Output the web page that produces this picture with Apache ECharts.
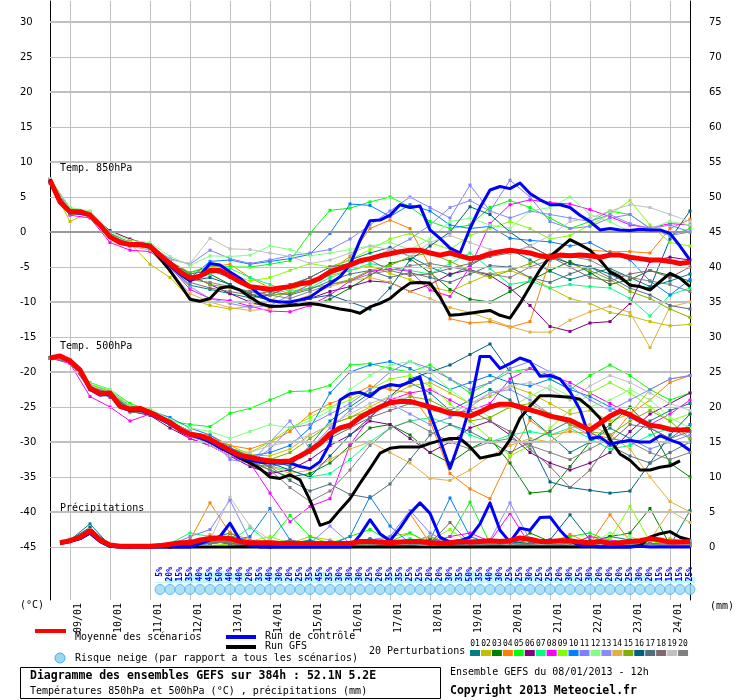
<!DOCTYPE html>
<html>
<head>
<meta charset="utf-8">
<script src="https://cdn.jsdelivr.net/npm/echarts@6/dist/echarts.min.js"></script>
<style>
  html, body { margin: 0; padding: 0; background: #fff; }
  #chart { width: 740px; height: 700px; }
</style>
</head>
<body>
<div id="chart"></div>
<script>
// GEFS 384h ensemble diagram, 52.1N 5.2E, run of 08/01/2013 12h
// time steps every 6h (65 steps), perturbations read every 12h

var dayLabels = ['09/01', '10/01', '11/01', '12/01', '13/01', '14/01', '15/01', '16/01',
  '17/01', '18/01', '19/01', '20/01', '21/01', '22/01', '23/01', '24/01'];
var leftTicks = [-45, -40, -35, -30, -25, -20, -15, -10, -5, 0, 5, 10, 15, 20, 25, 30];
var rightTicks = [0, 5, 10, 15, 20, 25, 30, 35, 40, 45, 50, 55, 60, 65, 70, 75];

var pertNames = ['01', '02', '03', '04', '05', '06', '07', '08', '09', '10',
  '11', '12', '13', '14', '15', '16', '17', '18', '19', '20'];
var pertColors = ['#008080', '#c0c000', '#008000', '#ff8000', '#00ff00', '#800080', '#00ff80',
  '#ff00ff', '#80ff00', '#0080ff', '#8080ff', '#80ff80', '#8888ff', '#e0b040', '#80b000',
  '#006080', '#507080', '#806870', '#c0c0c0', '#808080'];

// 850 hPa (°C), 6h
var mean850 = [7.4, 4.3, 2.9, 2.9, 2.4, 1.0, -0.7, -1.5, -1.8, -1.8, -2.0, -3.3, -4.5, -5.7, -6.6, -6.3,
  -5.5, -5.5, -6.3, -7.1, -7.8, -8.0, -8.2, -8.0, -7.8, -7.4, -7.2, -6.6, -5.7, -5.2, -4.7, -4.1,
  -3.8, -3.4, -3.1, -2.8, -2.6, -2.6, -3.0, -3.3, -3.0, -3.4, -3.8, -3.6, -3.1, -2.8, -2.6, -2.8,
  -3.0, -3.4, -3.6, -3.3, -3.4, -3.3, -3.4, -3.6, -3.3, -3.3, -3.6, -3.8, -4.0, -4.0, -4.2, -4.5, -4.3];
var ctrl850 = [7.5, 4.2, 2.8, 2.7, 2.4, 1.0, -0.6, -1.5, -1.8, -1.8, -2.0, -3.4, -4.8, -6.0, -7.0, -6.2,
  -4.5, -4.7, -5.7, -6.6, -7.8, -9.0, -9.8, -10.0, -10.0, -9.7, -9.3, -8.3, -7.4, -6.4, -4.7, -1.2,
  1.6, 1.7, 2.4, 3.9, 3.5, 3.7, 0.3, -0.9, -2.3, -3.0, 0.5, 3.5, 6.0, 6.5, 6.2, 7.0,
  5.5, 4.6, 3.9, 3.9, 3.5, 2.4, 1.5, 0.3, 0.5, 0.3, 0.2, 0.4, 0.3, 0.3, -0.2, -2.0, -4.0];
var gfs850 = [7.5, 4.3, 2.9, 2.9, 2.4, 1.0, -0.7, -1.5, -1.8, -1.8, -2.1, -3.8, -5.5, -7.5, -9.6, -9.9,
  -9.5, -8.0, -7.8, -8.3, -9.3, -10.2, -10.6, -10.6, -10.5, -10.4, -10.2, -10.4, -10.7, -11.0, -11.2, -11.6,
  -10.7, -10.2, -9.5, -8.3, -7.3, -7.2, -7.3, -9.3, -11.9, -11.8, -11.6, -11.4, -11.2, -11.9, -12.3, -10.2,
  -7.8, -5.4, -3.5, -2.3, -1.1, -1.8, -2.6, -4.0, -5.7, -6.4, -7.6, -7.8, -8.3, -7.1, -5.9, -6.6, -7.8];

// 500 hPa (°C), 6h
var mean500 = [-18.0, -17.7, -18.4, -19.7, -22.3, -23.1, -23.0, -24.9, -25.3, -25.2, -25.8, -26.5, -27.2, -28.2, -28.9, -29.1,
  -29.6, -30.4, -31.2, -31.9, -32.2, -32.5, -32.7, -32.8, -32.7, -32.0, -31.2, -30.2, -28.8, -28.0, -27.6, -26.5,
  -25.7, -25.0, -24.4, -24.2, -24.2, -24.6, -25.0, -25.4, -25.9, -26.0, -26.3, -25.7, -25.0, -24.6, -24.6, -25.0,
  -25.4, -25.8, -26.3, -26.6, -26.9, -27.6, -28.3, -27.3, -26.3, -25.6, -26.1, -26.9, -27.6, -27.8, -28.2, -28.3, -28.2];
var ctrl500 = [-18.0, -17.7, -18.5, -19.8, -22.5, -23.3, -23.2, -25.0, -25.5, -25.4, -26.0, -26.7, -27.4, -28.4, -29.0, -29.4,
  -30.0, -30.8, -31.5, -32.2, -32.6, -32.9, -33.0, -33.0, -33.0, -33.5, -33.8, -32.8, -30.2, -24.0, -23.1, -22.9,
  -23.5, -22.3, -21.8, -22.0, -21.4, -20.7, -25.9, -29.7, -33.8, -29.7, -24.9, -17.8, -17.8, -19.5, -18.8, -18.0,
  -18.5, -20.6, -20.5, -21.0, -22.8, -25.4, -29.5, -29.3, -30.3, -30.0, -29.8, -30.0, -30.0, -29.1, -29.7, -30.2, -31.2];
var gfs500 = [-18.0, -17.7, -18.4, -19.7, -22.3, -23.1, -23.0, -24.9, -25.3, -25.2, -25.8, -26.5, -27.2, -28.2, -28.9, -29.3,
  -29.9, -30.8, -31.5, -32.3, -33.0, -33.8, -35.0, -35.2, -34.7, -35.4, -38.3, -41.9, -41.4, -39.7, -38.1, -35.9,
  -33.8, -31.6, -30.9, -30.7, -30.7, -30.7, -30.2, -29.8, -29.5, -29.5, -30.7, -32.3, -32.0, -31.7, -29.7, -26.6,
  -24.9, -23.4, -23.4, -23.5, -23.6, -23.9, -25.1, -26.6, -29.7, -31.7, -32.6, -34.0, -34.0, -33.6, -33.4, -32.7, null];

// precipitation (mm), 6h
var meanPrecip = [null, 0.6, 0.9, 1.4, 2.3, 1.0, 0.3, 0.1, 0.1, 0.1, 0.1, 0.2, 0.4, 0.6, 0.6, 1.0,
  1.2, 1.3, 1.2, 0.8, 0.6, 0.6, 0.6, 0.5, 0.5, 0.5, 0.5, 0.5, 0.5, 0.5, 0.5, 0.8,
  0.8, 0.7, 0.6, 0.7, 0.8, 0.8, 0.6, 0.5, 0.6, 0.8, 0.7, 0.8, 0.9, 0.8, 0.9, 1.3,
  1.1, 0.8, 0.8, 0.9, 0.9, 0.7, 0.6, 0.8, 0.5, 0.6, 0.8, 0.9, 1.2, 1.0, 0.7, 0.7, 0.8];
var ctrlPrecip = [null, 0.6, 0.8, 1.2, 2.0, 0.8, 0.1, 0, 0, 0, 0, 0, 0, 0, 0, 0.5,
  1.0, 1.5, 3.4, 1.0, 0.2, 0, 0, 0, 0, 0, 0, 0, 0, 0, 0, 1.7,
  3.9, 1.9, 0.9, 2.7, 4.8, 6.3, 4.8, 1.4, 0.7, 0.9, 1.4, 3.3, 6.3, 2.4, 0.7, 2.7,
  2.4, 4.2, 4.3, 2.4, 0.9, 0.2, 0.1, 0, 0, 0, 0, 0.1, 0, 0, 0, 0, 0];
var gfsPrecip = [null, 0.5, 0.8, 1.2, 2.0, 0.8, 0.1, 0, 0, 0, 0, 0, 0, 0, 0, 0,
  0, 0, 0, 0, 0, 0, 0, 0, 0, 0, 0, 0, 0, 0, 0, 0,
  0, 0, 0, 0, 0, 0, 0, 0, 0, 0, 0, 0, 0, 0, 0, 0,
  0, 0, 0, 0, 0, 0, 0, 0, 0, 0, 0, 0.2, 1.4, 1.9, 2.2, 1.4, 1.0];

// perturbations, 12h (33 values each)
var pert850 = [
  [7.2, 2.5, 2.7, -0.2, -1.5, -2.4, -5.0, -7.6, -8.2, -8.8, -9.4, -9.0, -7.8, -6.5, -5.0, -4.0, -3.0, -2.2, -3.5, -5.0, -6.2, -4.8, -3.2, -2.5, -4.0, -5.6, -6.8, -6.0, -5.2, -6.5, -7.8, -7.0, -6.0],
  [7.0, 1.5, 2.9, -0.8, -1.6, -4.6, -6.5, -9.5, -10.5, -11.0, -10.6, -9.8, -8.4, -7.0, -6.2, -5.5, -4.8, -5.9, -6.8, -7.8, -8.5, -7.2, -6.0, -5.5, -6.5, -8.0, -9.5, -10.2, -11.5, -12.0, -12.8, -13.4, -13.2],
  [7.4, 3.0, 2.4, -0.6, -2.0, -2.2, -4.6, -6.8, -6.0, -7.5, -9.0, -9.8, -10.2, -10.5, -9.6, -8.0, -6.2, -4.5, -3.8, -5.8, -8.2, -9.6, -10.0, -8.5, -7.0, -5.5, -4.2, -5.8, -7.5, -6.8, -5.5, -6.2, -7.0],
  [7.5, 3.2, 2.2, -0.4, -1.5, -2.0, -4.2, -5.8, -5.0, -4.6, -6.5, -8.0, -8.8, -7.5, -5.5, -3.5, 0.5, 1.7, 0.5, -5.0, -12.4, -13.0, -12.8, -13.6, -12.8, -4.0, -1.2, -2.6, -2.8, -2.8, -3.0, 0.5, 1.8],
  [7.6, 3.4, 2.8, -0.2, -1.5, -2.2, -4.5, -5.8, -4.8, -5.0, -5.0, -4.6, -4.1, -0.2, 3.1, 3.4, 4.3, 5.0, 3.6, 1.5, 0.5, 1.0, 3.5, 4.5, 3.5, 2.0, 0.5, 1.5, 3.0, 2.5, 0.5, -0.5, 0.5],
  [7.2, 3.0, 2.5, 0.2, -1.0, -1.8, -4.2, -6.2, -7.5, -8.8, -10.0, -10.8, -10.5, -9.5, -8.5, -7.8, -7.0, -7.2, -8.5, -7.5, -6.0, -5.4, -6.2, -8.0, -10.5, -13.5, -14.2, -13.0, -12.8, -10.2, -4.2, -3.6, -4.0],
  [7.5, 3.0, 2.6, -0.5, -1.7, -2.0, -4.4, -6.4, -6.0, -5.2, -6.5, -7.5, -8.5, -8.0, -6.5, -5.5, -4.5, -5.0, -5.5, -6.0, -4.5, -3.0, -5.2, -7.5, -7.0, -8.0, -7.5, -7.8, -8.0, -9.5, -12.0, -9.0, -8.0],
  [7.0, 2.4, 2.0, -1.5, -2.6, -2.8, -5.0, -8.2, -9.5, -9.8, -10.6, -11.3, -11.4, -10.5, -9.0, -7.0, -5.6, -5.3, -5.6, -8.3, -9.2, -5.0, 1.2, 3.9, 4.6, 4.2, 4.0, 3.2, 2.2, 1.0, 0.6, 1.2, 1.0],
  [7.6, 3.2, 2.8, -0.4, -1.5, -2.2, -4.6, -6.0, -5.2, -6.0, -7.0, -6.5, -5.5, -4.5, -5.0, -4.0, -2.5, -1.0, -0.2, -1.5, -2.5, -0.5, 0.5, 1.5, 0.5, -1.0, -0.5, 1.0, 2.5, 4.5, 1.0, -1.5, -2.0],
  [7.4, 3.0, 2.4, -0.8, -1.8, -2.0, -4.6, -6.6, -4.2, -4.0, -4.6, -4.2, -3.8, -3.2, -0.2, 4.0, 3.8, 2.2, 3.9, 3.0, 1.0, 0.5, 0.8, -0.9, -1.2, -1.4, -2.0, -1.5, -3.0, -4.0, -7.0, -9.0, -6.8],
  [7.5, 3.3, 2.7, -0.3, -1.6, -2.0, -3.8, -4.6, -2.6, -3.8, -4.5, -4.0, -3.4, -3.0, -2.5, -1.0, 1.0, 3.0, 5.0, 3.5, 2.0, 6.7, 3.0, 7.4, 5.0, 1.5, 0.5, 0.8, 2.0, 2.5, 0.5, 1.0, 0.0],
  [7.6, 3.5, 3.0, 0.0, -1.2, -1.5, -3.5, -4.8, -3.4, -3.5, -3.3, -2.0, -2.5, -3.4, -3.0, -2.5, -2.0, -1.5, -2.5, -1.0, 1.5, 2.0, 1.0, 0.5, 3.0, 3.5, 5.0, 2.5, 1.5, 0.0, 0.5, 1.5, 1.0],
  [7.3, 2.8, 2.5, -0.6, -1.8, -2.4, -5.2, -7.8, -9.5, -10.2, -10.8, -10.5, -9.0, -7.5, -6.0, -5.0, -4.0, -2.5, -1.0, 1.0, 3.5, 4.5, 3.0, 2.0, 3.0, 2.5, 2.0, 1.5, 2.5, 1.2, 0.5, -0.5, 0.0],
  [7.2, 2.6, 2.3, -0.7, -2.0, -2.6, -5.6, -8.8, -10.0, -10.8, -11.2, -11.0, -10.0, -9.0, -7.8, -7.0, -6.5, -7.2, -8.5, -9.5, -10.8, -11.5, -12.5, -13.5, -14.3, -14.3, -12.6, -11.4, -10.6, -11.5, -16.5, -10.7, -10.0],
  [7.4, 3.0, 2.6, -0.4, -1.4, -2.1, -4.5, -6.2, -7.5, -8.0, -8.5, -9.0, -8.8, -8.0, -7.5, -6.8, -5.5, -4.8, -3.5, -3.0, -4.2, -5.5, -6.5, -5.5, -4.5, -3.2, -4.5, -5.5, -6.8, -8.5, -9.5, -11.0, -12.2],
  [7.3, 2.7, 2.4, -0.5, -1.7, -2.2, -5.0, -7.0, -6.5, -7.5, -8.8, -9.8, -10.2, -9.5, -9.0, -10.0, -11.0, -8.0, -4.0, -2.0, 0.0, 3.6, 2.5, 0.0, -2.0, -3.5, -4.5, -5.0, -6.0, -7.5, -8.0, -1.0, 3.0],
  [7.5, 3.1, 2.6, -0.3, -1.6, -2.0, -4.2, -6.0, -5.5, -6.5, -7.8, -8.5, -9.0, -8.2, -7.0, -6.0, -5.5, -6.5, -5.8, -6.5, -7.2, -6.0, -4.8, -5.0, -6.5, -7.2, -6.0, -5.0, -6.5, -8.0, -9.0, -10.5, -11.0],
  [7.4, 2.9, 2.5, -0.4, -1.8, -2.3, -4.9, -7.2, -8.0, -8.5, -9.0, -8.5, -7.5, -6.5, -5.0, -4.5, -4.0, -5.5, -6.2, -6.0, -5.2, -4.5, -3.5, -3.0, -2.0, -3.5, -5.0, -6.5, -7.0, -6.0, -5.5, -6.5, -5.0],
  [7.5, 3.2, 2.7, -0.4, -1.5, -1.9, -4.0, -4.5, -0.9, -2.4, -2.5, -3.0, -3.5, -4.5, -4.0, -3.0, -2.0, -2.5, -3.5, -1.5, -0.5, -1.5, -2.5, -3.0, -2.0, -0.5, 1.5, 2.0, 3.0, 3.9, 3.5, 2.5, 1.5],
  [7.3, 2.8, 2.4, -0.6, -1.8, -2.1, -4.6, -6.8, -7.2, -7.8, -8.5, -9.0, -9.5, -8.5, -7.5, -7.0, -6.0, -5.5, -4.8, -4.5, -5.0, -5.5, -6.0, -6.5, -5.0, -4.0, -3.5, -4.0, -5.5, -6.5, -7.0, -7.5, -8.5]
];
var pert500 = [
  [-18.0, -18.6, -22.0, -23.2, -25.0, -26.0, -27.5, -29.0, -29.5, -31.0, -32.0, -32.5, -33.5, -30.5, -27.0, -25.0, -23.0, -22.0, -21.5, -23.0, -25.5, -24.0, -22.5, -24.0, -26.5, -29.0, -31.5, -30.0, -28.0, -29.5, -27.0, -25.5, -24.5],
  [-18.0, -18.5, -22.6, -23.5, -25.8, -25.4, -27.8, -28.6, -29.5, -30.5, -31.8, -32.0, -31.0, -29.0, -27.5, -26.5, -25.0, -23.5, -22.0, -21.5, -23.0, -24.5, -23.5, -22.0, -23.0, -24.5, -26.0, -25.5, -27.0, -26.0, -22.5, -21.0, -20.5],
  [-18.0, -18.3, -21.8, -22.8, -24.8, -25.5, -27.0, -28.5, -30.0, -31.5, -32.8, -34.0, -35.0, -34.5, -33.0, -30.5, -28.0, -27.5, -29.0, -31.5, -33.0, -31.0, -29.5, -33.0, -37.3, -37.0, -33.5, -30.0, -27.5, -25.0, -28.0, -33.0, -35.0],
  [-18.0, -18.5, -22.2, -23.0, -25.5, -25.6, -27.0, -28.8, -29.0, -30.5, -31.0, -30.0, -28.5, -26.0, -24.5, -23.5, -22.0, -22.5, -23.0, -27.0, -34.5, -36.7, -38.1, -32.1, -26.9, -29.0, -28.5, -28.8, -29.5, -26.0, -24.0, -21.5, -20.5],
  [-18.0, -18.2, -21.5, -22.5, -24.5, -25.5, -27.0, -27.5, -27.8, -25.9, -25.2, -24.0, -22.8, -22.7, -21.9, -19.0, -18.8, -19.5, -20.0, -19.0, -21.0, -23.0, -21.5, -20.0, -19.5, -21.0, -22.5, -20.5, -19.0, -20.5, -22.5, -24.0, -23.0],
  [-18.0, -18.6, -22.4, -23.6, -25.6, -26.2, -28.0, -29.5, -30.5, -32.0, -33.5, -34.5, -34.0, -32.5, -30.5, -29.0, -27.0, -27.5, -29.5, -31.5, -30.0, -28.0, -27.0, -29.0, -31.5, -33.0, -34.0, -33.0, -31.5, -28.5, -26.0, -24.5, -23.0],
  [-18.0, -18.4, -22.0, -23.0, -25.2, -25.8, -27.0, -28.5, -29.5, -31.0, -32.5, -33.5, -34.0, -35.0, -34.5, -32.5, -30.0, -28.0, -27.0, -26.5, -27.5, -29.0, -30.0, -29.0, -28.5, -29.0, -28.0, -29.5, -31.0, -30.5, -29.0, -28.0, -29.5],
  [-18.0, -18.8, -23.5, -25.0, -27.0, -26.0, -27.5, -29.5, -30.5, -32.0, -33.0, -37.3, -41.4, -39.2, -38.1, -30.4, -26.5, -24.0, -23.0, -22.5, -24.0, -25.5, -24.5, -21.0, -19.5, -20.5, -21.5, -23.0, -24.5, -26.0, -27.5, -26.0, -24.0],
  [-18.0, -18.3, -21.8, -22.6, -25.0, -25.8, -27.4, -29.0, -29.8, -31.0, -31.5, -30.0, -28.0, -26.5, -25.0, -24.0, -22.5, -21.0, -20.5, -22.0, -24.5, -27.0, -29.5, -32.0, -30.5, -28.0, -25.5, -23.0, -21.5, -23.0, -25.0, -27.0, -26.0],
  [-18.0, -18.5, -22.3, -23.0, -25.4, -25.5, -26.5, -28.0, -29.0, -30.8, -32.0, -31.5, -30.5, -28.0, -23.0, -20.0, -19.0, -18.5, -19.5, -21.0, -22.5, -21.5, -20.5, -21.5, -22.0, -21.0, -22.5, -23.5, -25.0, -26.5, -28.0, -29.5, -27.5],
  [-18.0, -18.4, -22.5, -23.3, -25.6, -26.0, -27.0, -28.5, -29.5, -32.5, -33.0, -31.0, -28.0, -27.5, -26.0, -24.5, -22.5, -20.0, -18.5, -19.5, -21.0, -22.5, -21.5, -19.5, -18.5, -20.0, -22.0, -24.0, -25.5, -24.0, -22.5, -21.0, -20.5],
  [-18.0, -18.3, -21.6, -22.5, -24.8, -25.2, -26.8, -28.0, -28.5, -29.5, -28.5, -27.5, -28.0, -27.0, -25.5, -22.5, -20.5, -19.0, -18.5, -20.0, -22.5, -24.5, -26.5, -25.0, -23.5, -22.0, -23.5, -25.0, -24.0, -22.5, -24.0, -26.5, -28.0],
  [-18.0, -18.6, -22.1, -23.4, -25.3, -26.1, -27.6, -29.2, -30.2, -31.8, -33.0, -30.0, -27.0, -31.0, -28.0, -25.5, -23.5, -24.5, -26.0, -27.5, -26.5, -25.0, -23.0, -22.5, -24.0, -26.0, -27.5, -29.0, -30.5, -29.5, -31.0, -30.0, -29.0],
  [-18.0, -18.5, -22.0, -23.1, -25.5, -26.0, -27.3, -29.0, -30.0, -31.5, -32.5, -33.5, -34.5, -34.0, -32.5, -31.0, -30.0, -31.5, -33.0, -35.2, -35.5, -34.0, -32.0, -30.5, -29.5, -30.0, -28.0, -27.5, -29.0, -31.0, -35.0, -38.5, -40.0],
  [-18.0, -18.4, -22.2, -22.9, -25.1, -25.7, -27.1, -28.7, -29.4, -31.0, -32.0, -32.5, -31.5, -29.5, -27.5, -26.5, -25.5, -24.5, -23.5, -24.0, -25.5, -27.0, -26.5, -25.0, -24.5, -26.0, -27.5, -28.5, -29.0, -27.0, -25.5, -27.0, -29.5],
  [-18.0, -18.5, -22.4, -23.2, -25.4, -25.9, -27.2, -28.8, -29.8, -31.3, -32.4, -33.0, -34.0, -35.0, -32.0, -29.0, -26.5, -23.5, -21.0, -20.0, -19.0, -17.5, -16.0, -20.0, -30.0, -35.7, -36.5, -36.9, -37.3, -37.0, -33.0, -29.0, -26.0],
  [-18.0, -18.4, -22.2, -23.0, -25.3, -25.8, -27.1, -28.9, -29.6, -31.2, -32.3, -33.5, -35.5, -37.0, -36.0, -37.5, -38.0, -36.0, -32.5, -29.0, -27.5, -28.5, -30.0, -31.5, -30.0, -28.5, -27.0, -28.5, -30.5, -32.0, -33.0, -31.5, -30.0],
  [-18.0, -18.6, -22.5, -23.3, -25.7, -26.0, -27.5, -29.0, -30.0, -31.5, -33.2, -33.5, -33.0, -31.5, -29.5, -28.0, -26.5, -25.5, -24.5, -25.0, -26.0, -25.5, -27.0, -28.5, -31.0, -33.5, -36.5, -34.0, -30.0, -27.5, -28.0, -29.5, -28.5],
  [-18.0, -18.3, -21.9, -22.8, -25.0, -25.5, -27.0, -28.6, -30.5, -32.0, -31.5, -30.5, -30.0, -29.0, -27.5, -26.0, -24.5, -23.5, -24.0, -25.5, -26.0, -24.5, -23.0, -22.0, -21.5, -22.5, -24.0, -22.0, -20.5, -21.5, -23.0, -24.5, -25.5],
  [-18.0, -18.5, -22.3, -23.1, -25.2, -25.9, -27.3, -28.9, -29.9, -31.4, -32.6, -34.0, -36.5, -38.5, -37.0, -34.0, -30.5, -28.0, -27.0, -28.5, -30.0, -31.0, -30.0, -29.5, -30.5, -31.5, -32.5, -31.0, -29.5, -30.0, -31.5, -32.5, -31.5]
];
var pertPrecip = [
  [null, 1.0, 3.3, 0.2, 0, 0, 0.2, 0.5, 1.2, 2.0, 0.5, 0.2, 0.5, 1.0, 0.3, 0.5, 1.2, 0.5, 0.8, 1.5, 0.5, 0.3, 0.2, 0.5, 1.0, 0.5, 0.2, 0.8, 1.5, 1.0, 0.5, 0.2, 5.2],
  [null, 0.9, 2.2, 0.1, 0, 0, 0, 0.2, 0.8, 0.5, 0.3, 0, 0.5, 1.5, 1.0, 0.2, 0.5, 1.5, 2.0, 0.5, 0.2, 0, 0.3, 0.5, 0.2, 0.1, 0.5, 1.5, 0.8, 0.3, 0.2, 1.2, 0.5],
  [null, 0.8, 2.4, 0.2, 0, 0, 0, 0.3, 1.0, 1.6, 0.8, 0.5, 0.3, 0.2, 0.5, 0.3, 1.0, 0.5, 0.3, 1.2, 0.8, 0.5, 0.3, 0.2, 2.0, 0.8, 0.3, 0.5, 1.5, 2.0, 5.5, 0.3, 0.2],
  [null, 1.0, 2.0, 0.1, 0, 0, 0.3, 1.0, 6.3, 2.0, 1.0, 0.2, 0.3, 0.5, 0.2, 0.5, 0.3, 0.8, 4.8, 0.5, 0.3, 0.8, 0.5, 0.3, 1.2, 0.5, 1.8, 0.5, 4.6, 0.8, 0.5, 0.5, 1.0],
  [null, 1.1, 2.5, 0.2, 0, 0, 0, 0.3, 0.8, 0.5, 0.5, 1.0, 4.5, 1.5, 0.5, 1.5, 2.5, 0.8, 2.0, 0.5, 1.5, 6.4, 0.5, 0.3, 0.5, 0.8, 1.5, 2.0, 0.8, 0.5, 0.3, 0.2, 0.5],
  [null, 0.9, 2.3, 0.1, 0, 0, 0, 0.5, 1.2, 0.3, 0.2, 0, 0.2, 0.3, 0.8, 0.5, 0.2, 0.3, 0.5, 0.8, 0.3, 0.5, 0.2, 0.3, 0.5, 1.0, 0.5, 0.3, 0.8, 0.5, 0.3, 0.2, 0.3],
  [null, 1.0, 2.6, 0.2, 0, 0, 0.5, 2.0, 1.5, 0.8, 2.8, 0.5, 0.3, 0.5, 0.3, 0.2, 0.5, 0.3, 1.2, 0.5, 0.3, 0.5, 0.8, 0.5, 0.3, 0.2, 0.5, 0.3, 0.8, 1.0, 0.5, 0.3, 0.2],
  [null, 0.8, 2.0, 0.1, 0, 0, 0, 0.5, 1.0, 1.5, 0.5, 0.3, 0.5, 0.3, 0.5, 0.3, 0.5, 0.3, 0.8, 0.5, 1.5, 2.0, 0.8, 4.8, 0.3, 0.5, 0.3, 1.5, 1.0, 0.5, 0.3, 0.5, 0.2],
  [null, 1.0, 2.4, 0.2, 0, 0, 0, 0.5, 0.5, 0.3, 0.8, 1.5, 0.5, 0.3, 0.2, 0.5, 0.8, 0.5, 0.3, 1.0, 2.5, 0.5, 0.3, 0.8, 0.5, 0.3, 0.5, 0.8, 1.2, 5.8, 0.8, 0.3, 0.2],
  [null, 0.9, 2.1, 0.1, 0, 0, 0, 0.3, 0.5, 0.8, 1.5, 5.5, 1.0, 0.5, 0.3, 1.5, 7.2, 3.0, 0.5, 1.0, 7.0, 1.5, 0.5, 0.8, 0.3, 0.5, 0.3, 0.2, 0.5, 0.3, 0.2, 0.5, 0.3],
  [null, 1.0, 2.7, 0.2, 0, 0, 0.2, 1.5, 2.5, 6.7, 1.0, 0.5, 0.3, 0.5, 0.8, 0.5, 1.0, 1.5, 5.2, 2.0, 0.5, 0.3, 1.0, 0.5, 0.3, 0.5, 0.8, 0.5, 0.3, 0.5, 0.3, 0.5, 0.8],
  [null, 1.1, 2.6, 0.2, 0, 0, 0, 0.5, 1.0, 1.5, 0.8, 0.5, 0.3, 0.8, 0.5, 0.3, 0.5, 0.8, 0.3, 0.5, 0.3, 0.8, 0.5, 0.3, 0.2, 0.5, 0.3, 0.5, 2.0, 1.5, 0.5, 0.3, 0.5],
  [null, 0.9, 2.2, 0.1, 0, 0, 0, 0.3, 0.8, 0.5, 0.3, 0.5, 0.2, 0.5, 3.0, 0.5, 0.3, 0.5, 0.8, 0.3, 0.5, 0.3, 1.0, 6.3, 1.0, 0.5, 0.3, 0.5, 0.8, 0.3, 0.5, 0.2, 0.5],
  [null, 1.0, 2.3, 0.1, 0, 0, 0, 0.3, 1.8, 1.0, 0.5, 0.3, 0.2, 0.5, 0.3, 0.5, 0.3, 0.5, 0.8, 1.5, 0.5, 0.3, 0.5, 0.3, 0.5, 0.8, 0.3, 0.5, 0.3, 0.8, 1.0, 5.2, 3.5],
  [null, 0.9, 2.4, 0.2, 0, 0, 0, 0.2, 0.8, 0.6, 0.5, 0.3, 0.8, 0.5, 0.3, 0.2, 0.5, 0.3, 0.5, 0.8, 0.5, 0.3, 0.2, 0.5, 0.3, 0.2, 0.5, 0.3, 0.5, 0.8, 0.5, 0.3, 0.2],
  [null, 1.0, 2.8, 0.2, 0, 0, 0, 0.3, 0.5, 0.8, 0.5, 0.3, 0.5, 0.8, 0.3, 0.5, 0.8, 0.5, 0.3, 1.0, 0.5, 0.3, 0.5, 0.8, 0.5, 1.0, 4.6, 1.0, 0.5, 0.3, 0.5, 0.3, 0.2],
  [null, 0.8, 2.2, 0.1, 0, 0, 0.5, 1.0, 0.8, 0.5, 0.3, 0.5, 0.2, 0.3, 0.5, 0.3, 0.5, 0.3, 0.2, 0.5, 0.3, 0.5, 0.3, 0.2, 0.5, 0.3, 0.2, 0.5, 0.3, 0.2, 0.3, 0.5, 0.3],
  [null, 0.9, 2.0, 0.1, 0, 0, 0, 0.8, 1.5, 0.5, 0.3, 0.5, 1.0, 0.3, 0.5, 0.3, 0.2, 0.5, 0.3, 0.5, 3.5, 0.5, 0.3, 0.5, 0.2, 0.3, 0.5, 0.3, 0.5, 0.3, 0.2, 0.3, 0.5],
  [null, 1.0, 2.5, 0.2, 0, 0, 0, 0.5, 1.0, 7.1, 3.0, 1.0, 0.5, 0.3, 0.5, 0.3, 0.2, 0.5, 0.3, 0.5, 0.8, 0.3, 0.5, 0.3, 0.2, 0.5, 0.3, 0.2, 0.5, 0.3, 0.2, 0.5, 0.3],
  [null, 0.9, 2.3, 0.1, 0, 0, 0, 0.3, 0.5, 0.8, 0.3, 0.2, 0.3, 0.5, 0.2, 0.3, 0.5, 0.2, 0.3, 0.5, 0.2, 0.3, 0.5, 0.2, 0.3, 0.2, 0.5, 0.3, 0.2, 0.3, 0.5, 0.2, 0.3]
];

// snow risk (% of scenarios), from step 11 (11/01 06h) to step 64
var snowStart = 11;
var snowPct = [5, 20, 15, 35, 40, 45, 50, 40, 40, 20, 35, 40, 30, 20, 25, 35, 45, 35, 30, 30, 30, 25,
  20, 35, 35, 25, 25, 20, 20, 30, 35, 50, 35, 40, 30, 25, 25, 30, 25, 25, 20, 30, 25, 30, 20, 20,
  20, 25, 30, 20, 15, 15, 15, 25];

// ---- layout ----
var MONO = 'DejaVu Sans Mono';
var yMin = -52.57, yMax = 33;        // left axis (°C); right axis (mm) is the same scale shifted by 45
var mmShift = 45;
var snowBarBase = -50.14;            // bottom of the snow risk bars
var snowBarScale = 0.0343;           // axis units per %
var snowTextY = -47.86;
var snowFlakeY = -51.07;

var steps = [];
for (var i = 0; i < mean850.length; i++) steps.push(i);

function at12h(row) {
  // perturbations are read every second 6h step
  return row.map(function (v, k) { return [2 * k, v]; });
}

var chart = echarts.init(document.getElementById('chart'), null, { renderer: 'canvas' });

var series = [];

// horizontal grid lines
series.push({
  type: 'line', data: mean850, z: 1, silent: true, symbol: 'none',
  lineStyle: { opacity: 0 },
  markLine: {
    silent: true, symbol: ['none', 'none'], label: { show: false }, animation: false,
    data: leftTicks.map(function (v) {
      var style = { type: 'solid', color: '#c0c0c0', width: (v % 10 === 0) ? 2 : 1 };
      if (v === 0) { style.color = '#999999'; style.width = 2; }
      return { yAxis: v, lineStyle: style };
    })
  }
});

// snow risk bars + percentages
series.push({
  type: 'custom', silent: true, z: 3,
  data: snowPct.map(function (p, j) { return [snowStart + j, p]; }),
  renderItem: function (params, api) {
    var idx = api.value(0), pct = api.value(1);
    var b = api.coord([idx, snowBarBase]);
    var t = api.coord([idx, snowBarBase + pct * snowBarScale]);
    var tp = api.coord([idx, snowTextY]);
    var w = api.size([1, 0])[0];
    return {
      type: 'group',
      children: [
        { type: 'rect', shape: { x: b[0] - w / 2, y: t[1], width: w, height: b[1] - t[1] },
          style: { fill: '#bff6ff' } },
        { type: 'text', x: tp[0], y: tp[1], rotation: Math.PI / 2,
          style: { text: pct + '%', fill: '#0000ff', font: 'bold 8px ' + MONO,
                   align: 'right', verticalAlign: 'middle' } }
      ]
    };
  }
});

series.push({
  type: 'scatter', silent: true, z: 3,
  data: snowPct.map(function (p, j) { return [snowStart + j, snowFlakeY]; }),
  symbol: 'circle', symbolSize: 10,
  itemStyle: { color: '#9ad8f2', borderColor: '#4aaee6', borderWidth: 1 }
});

function addPerts(rows, axisIndex) {
  rows.forEach(function (row, n) {
    series.push({
      type: 'line', name: 'P' + pertNames[n], yAxisIndex: axisIndex, silent: true, z: 4,
      data: at12h(row), connectNulls: true,
      symbol: 'rect', symbolSize: 3, showSymbol: true,
      lineStyle: { width: 1, color: pertColors[n] },
      itemStyle: { color: pertColors[n] }
    });
  });
}
addPerts(pert850, 0);
addPerts(pert500, 0);
addPerts(pertPrecip, 1);

function addMain(data, axisIndex, color, width, z) {
  series.push({
    type: 'line', yAxisIndex: axisIndex, silent: true, z: z, data: data,
    symbol: 'none', connectNulls: false,
    lineStyle: { width: width, color: color, join: 'round' }
  });
}
addMain(gfs850, 0, '#000000', 3, 6);
addMain(gfs500, 0, '#000000', 3, 6);
addMain(gfsPrecip, 1, '#000000', 3, 6);
addMain(ctrl850, 0, '#0000ff', 3, 7);
addMain(ctrl500, 0, '#0000ff', 3, 7);
addMain(ctrlPrecip, 1, '#0000ff', 3, 7);
addMain(mean850, 0, '#ff0000', 5, 8);
addMain(mean500, 0, '#ff0000', 5, 8);
addMain(meanPrecip, 1, '#ff0000', 5, 8);

// legend and captions
var graphics = [
  { type: 'text', left: 60, top: 163, style: { text: 'Temp. 850hPa', font: '10px ' + MONO, fill: '#000' }, z: 20 },
  { type: 'text', left: 60, top: 341, style: { text: 'Temp. 500hPa', font: '10px ' + MONO, fill: '#000' }, z: 20 },
  { type: 'text', left: 60, top: 503, style: { text: 'Précipitations', font: '10px ' + MONO, fill: '#000' }, z: 20 },
  { type: 'text', left: 20, top: 600, style: { text: '(°C)', font: '10px ' + MONO, fill: '#000' } },
  { type: 'text', left: 710, top: 601, style: { text: '(mm)', font: '10px ' + MONO, fill: '#000' } },

  { type: 'line', shape: { x1: 35, y1: 631, x2: 66, y2: 631 }, style: { stroke: '#ff0000', lineWidth: 4 } },
  { type: 'text', left: 75, top: 632, style: { text: 'Moyenne des scénarios', font: '10px ' + MONO, fill: '#000' } },
  { type: 'line', shape: { x1: 226, y1: 637, x2: 256, y2: 637 }, style: { stroke: '#0000ff', lineWidth: 4 } },
  { type: 'text', left: 265, top: 631, style: { text: 'Run de contrôle', font: '10px ' + MONO, fill: '#000' } },
  { type: 'line', shape: { x1: 226, y1: 647, x2: 256, y2: 647 }, style: { stroke: '#000000', lineWidth: 4 } },
  { type: 'text', left: 265, top: 641, style: { text: 'Run GFS', font: '10px ' + MONO, fill: '#000' } },
  { type: 'circle', shape: { cx: 60, cy: 658, r: 5 }, style: { fill: '#9ad8f2', stroke: '#4aaee6', lineWidth: 1 } },
  { type: 'text', left: 75, top: 653, style: { text: 'Risque neige (par rapport a tous les scénarios)', font: '10px ' + MONO, fill: '#000' } },
  { type: 'text', left: 369, top: 646, style: { text: '20 Perturbations', font: '10px ' + MONO, fill: '#000' } },

  { type: 'rect', shape: { x: 20.5, y: 667.5, width: 420, height: 31 }, style: { fill: '#fff', stroke: '#000', lineWidth: 1 } },
  { type: 'text', left: 30, top: 670, style: { text: 'Diagramme des ensembles GEFS sur 384h : 52.1N 5.2E', font: 'bold 11.5px ' + MONO, fill: '#000' } },
  { type: 'text', left: 30, top: 686, style: { text: 'Températures 850hPa et 500hPa (°C) , précipitations (mm)', font: '10px ' + MONO, fill: '#000' } },
  { type: 'text', left: 450, top: 667, style: { text: 'Ensemble GEFS du 08/01/2013 - 12h', font: '10px ' + MONO, fill: '#000' } },
  { type: 'text', left: 450, top: 685, style: { text: 'Copyright 2013 Meteociel.fr', font: 'bold 11.5px ' + MONO, fill: '#000' } }
];
pertColors.forEach(function (c, n) {
  var x = 470 + n * 10.95;
  graphics.push({ type: 'rect', shape: { x: x, y: 650, width: 10, height: 6 }, style: { fill: c } });
  graphics.push({ type: 'text', x: x + 5, y: 644, style: { text: pertNames[n], font: '8px ' + MONO, fill: '#000', align: 'center', verticalAlign: 'middle' } });
});

var option = {
  animation: false,
  backgroundColor: '#ffffff',
  grid: { left: 50, right: 50, top: 1, bottom: 100, containLabel: false },
  xAxis: {
    type: 'category', data: steps, boundaryGap: false,
    axisLine: { show: true, lineStyle: { color: '#000', width: 1 } },
    axisTick: { show: false },
    splitLine: { show: true, interval: function (idx) { return idx % 4 === 2; },
                 lineStyle: { color: '#c0c0c0', width: 1 } },
    axisLabel: {
      show: true, rotate: 90, margin: 3,
      interval: function (idx) { return idx % 4 === 2; },
      formatter: function (val, idx) { return dayLabels[(idx - 2) / 4]; },
      verticalAlign: 'top', padding: [3, 0, 0, 0],
      fontFamily: MONO, fontSize: 10, color: '#000'
    }
  },
  yAxis: [
    {
      type: 'value', min: yMin, max: yMax, position: 'left',
      axisLine: { show: true, lineStyle: { color: '#000', width: 1 } },
      axisTick: { show: false }, splitLine: { show: false },
      axisLabel: { customValues: leftTicks, align: 'left', margin: 30,
                   fontFamily: 'DejaVu Sans', fontSize: 10, color: '#000' }
    },
    {
      type: 'value', min: yMin + mmShift, max: yMax + mmShift, position: 'right',
      axisLine: { show: true, lineStyle: { color: '#000', width: 1 } },
      axisTick: { show: false }, splitLine: { show: false },
      axisLabel: { customValues: rightTicks, align: 'left', margin: 19,
                   fontFamily: 'DejaVu Sans', fontSize: 10, color: '#000' }
    }
  ],
  graphic: graphics,
  series: series
};

chart.setOption(option);
</script>
</body>
</html>
